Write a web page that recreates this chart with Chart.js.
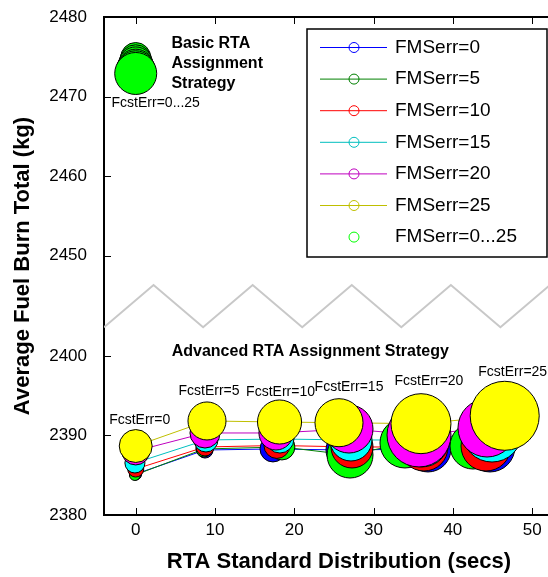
<!DOCTYPE html>
<html>
<head>
<meta charset="utf-8">
<script src="https://cdn.jsdelivr.net/npm/chart.js@4.4.1/dist/chart.umd.min.js"></script>
<style>
  html, body { margin: 0; padding: 0; background: #fff; overflow: hidden; width: 548px; height: 577px; }
  canvas { display: block; }
</style>
</head>
<body>
<!-- canvas is wider than the window: the axes box runs past the right edge as in the original -->
<canvas id="chart" width="574" height="577"></canvas>
<script>
const FONT = '"Liberation Sans", Arial, Helvetica, sans-serif'

const fmsErr = [0, 5, 10, 15, 20, 25]
const fcstErr = [0, 5, 10, 15, 20, 25]

// advanced strategy: one row per FMSerr, one column per FcstErr
const rtaStdDist = [
  [0.0, 8.74, 17.31, 26.40, 36.86, 44.68],
  [-0.1, 8.61, 18.44, 27.03, 33.96, 42.54],
  [0.0, 8.74, 17.81, 27.28, 36.36, 44.18],
  [-0.1, 8.86, 18.19, 27.15, 36.11, 44.94],
  [0.0, 8.74, 17.69, 26.90, 35.73, 44.31],
  [0.0, 8.99, 18.14, 25.64, 35.98, 46.54]
]
const fuelBurn = [
  [2385.15, 2388.17, 2388.30, 2388.17, 2388.30, 2388.55],
  [2385.03, 2388.30, 2388.55, 2387.54, 2389.05, 2388.67],
  [2385.78, 2388.55, 2388.74, 2388.55, 2388.55, 2388.67],
  [2386.54, 2389.43, 2389.55, 2389.43, 2389.43, 2390.43],
  [2388.05, 2390.31, 2390.31, 2390.81, 2390.06, 2390.94],
  [2388.67, 2391.82, 2391.69, 2391.60, 2391.48, 2392.47]
]
// bubble size = fuel burn spread (kg)
const fuelSpread = [
  [0.75, 1.01, 1.63, 2.39, 2.89, 3.14],
  [0.69, 1.01, 1.63, 2.89, 3.14, 2.89],
  [1.01, 1.13, 1.63, 2.64, 3.02, 3.14],
  [1.26, 1.51, 1.76, 2.64, 3.39, 3.77],
  [1.76, 1.89, 2.14, 3.02, 4.02, 3.65],
  [2.07, 2.39, 2.77, 3.02, 3.77, 4.34]
]

// basic strategy, FcstErr=0...25
const basicStdDist = [0, 0, 0, 0, 0, 0]
const basicFuelBurn = [2474.9, 2474.5, 2474.1, 2473.7, 2473.3, 2472.9]
const basicSpread = [1.89, 2.01, 2.14, 2.26, 2.45, 2.64]

const xTickValues = [0, 10, 20, 30, 40, 50]
const yTickValues = [2380, 2390, 2400, 2450, 2460, 2470, 2480]

// axis break zigzag (axis units)
const breakX = [-4, 2.25, 8.5, 14.75, 21, 27.25, 33.5, 39.75, 46, 52.25, 58.5]
const breakY = [2403.6, 2408.9, 2403.6, 2408.9, 2403.6, 2408.9, 2403.6, 2408.9, 2403.6, 2408.9, 2403.6]

const lineColors = ['#0000ff', '#008000', '#ff0000', '#00bfbf', '#bf00bf', '#bfbf00']
const fillColors = ['#0000ff', '#00ff00', '#ff0000', '#00ffff', '#ff00ff', '#ffff00']
const basicColor = '#00ff00'

// FcstErr label nudges (px) from the top of each yellow bubble
const labelDx = [4, 2, 1, 10, 8, 8]
const labelDy = [-9.5, -11, -7.7, -12, -12.7, -8.8]

// kg cut out of the y axis between 2400 and 2450
const axisGap = 37.4
const toAxis = v => v >= 2440 ? v - axisGap : v
const fromAxis = u => u > 2410 ? u + axisGap : u

// bubble radius: the spread in kg, measured on the y scale
const spreadRadius = ctx => {
  const raw = ctx.raw
  if (!raw) return 0
  const y = ctx.chart.scales.y
  const r = Math.abs(y.getPixelForValue(raw.y) - y.getPixelForValue(raw.y + raw.s))
  return isFinite(r) ? r : 0
}

const seriesPoints = i =>
  fcstErr.map((f, j) => ({ x: rtaStdDist[i][j], y: fuelBurn[i][j], s: fuelSpread[i][j] }))

const datasets = [
  {
    type: 'line',
    label: 'break',
    data: breakX.map((x, i) => ({ x, y: breakY[i] })),
    borderColor: '#c8c8c8',
    borderWidth: 2,
    pointRadius: 0,
    order: 30
  },
  ...fmsErr.map((f, i) => ({
    type: 'line',
    label: 'FMSerr=' + f + ' line',
    data: seriesPoints(i),
    borderColor: lineColors[i],
    borderWidth: 1,
    pointRadius: 0,
    order: 20 - i
  })),
  ...fmsErr.map((f, i) => ({
    type: 'bubble',
    label: 'FMSerr=' + f,
    data: seriesPoints(i),
    parsing: false,
    backgroundColor: fillColors[i],
    borderColor: '#000',
    borderWidth: 1,
    radius: spreadRadius,
    clip: false,
    order: 7 - i
  })),
  {
    type: 'bubble',
    label: 'FMSerr=0...25',
    data: basicFuelBurn.map((v, j) => ({ x: basicStdDist[j], y: toAxis(v), s: basicSpread[j] })),
    parsing: false,
    backgroundColor: basicColor,
    borderColor: '#000',
    borderWidth: 1,
    radius: spreadRadius,
    clip: false,
    order: 0
  }
]

const text = (ctx, str, x, y, size, weight, align) => {
  ctx.font = `${weight} ${size}px ${FONT}`
  ctx.fillStyle = '#000'
  ctx.textAlign = align
  ctx.textBaseline = 'middle'
  ctx.fillText(str, x, y)
}

const decorations = {
  id: 'decorations',
  afterDatasetsDraw (chart) {
    const { ctx, chartArea: area, scales: { x, y } } = chart
    ctx.save()
    // inward ticks + top frame
    ctx.strokeStyle = '#000'
    ctx.lineWidth = 1
    ctx.beginPath()
    y.ticks.forEach(t => {
      const py = Math.round(y.getPixelForValue(t.value)) + 0.5
      ctx.moveTo(area.left, py)
      ctx.lineTo(area.left + 7, py)
    })
    x.ticks.forEach(t => {
      const px = Math.round(x.getPixelForValue(t.value)) + 0.5
      ctx.moveTo(px, area.bottom)
      ctx.lineTo(px, area.bottom - 7)
      ctx.moveTo(px, area.top)
      ctx.lineTo(px, area.top + 7)
    })
    ctx.stroke()
    ctx.lineWidth = 2
    ctx.beginPath()
    ctx.moveTo(area.left, area.top)
    ctx.lineTo(area.right, area.top)
    ctx.stroke()

    // strategy titles
    const bx = x.getPixelForValue(4.5)
    const by = y.getPixelForValue(toAxis(2476.7))
    ;['Basic RTA', 'Assignment', 'Strategy'].forEach((s, i) => text(ctx, s, bx, by + i * 20, 16, 'bold', 'left'))
    text(ctx, 'Advanced RTA Assignment Strategy', x.getPixelForValue(4.54), y.getPixelForValue(2400.53), 16, 'bold', 'left')

    // FcstErr labels above the yellow bubbles
    const top = chart.getDatasetMeta(12).data
    top.forEach((el, j) => {
      text(ctx, 'FcstErr=' + fcstErr[j], el.x + labelDx[j], el.y - el.options.radius + labelDy[j], 14, 'normal', 'center')
    })
    const basic = chart.getDatasetMeta(13).data
    const big = basic[basic.length - 1]
    text(ctx, 'FcstErr=' + fcstErr[0] + '...' + fcstErr[fcstErr.length - 1], big.x + 20, big.y + big.options.radius + 9, 14, 'normal', 'center')

    // legend box
    const lx = area.left + 203
    const ly = area.top + 12
    ctx.fillStyle = '#fff'
    ctx.fillRect(lx, ly, 240, 228)
    ctx.strokeStyle = '#000'
    ctx.lineWidth = 1.5
    ctx.strokeRect(lx, ly, 240, 228)
    const names = [...fmsErr.map(f => 'FMSerr=' + f), 'FMSerr=0...25']
    names.forEach((name, i) => {
      const ry = ly + 18.5 + i * 31.6
      const col = i < lineColors.length ? lineColors[i] : basicColor
      ctx.strokeStyle = col
      ctx.lineWidth = 1
      if (i < lineColors.length) {
        ctx.beginPath()
        ctx.moveTo(lx + 13, ry)
        ctx.lineTo(lx + 80, ry)
        ctx.stroke()
      }
      ctx.beginPath()
      ctx.arc(lx + 47, ry, 5, 0, Math.PI * 2)
      ctx.stroke()
      text(ctx, name, lx + 88, ry, 19, 'normal', 'left')
    })
    ctx.restore()
  }
}

new Chart(document.getElementById('chart'), {
  type: 'bubble',
  data: { datasets },
  options: {
    responsive: false,
    animation: false,
    events: [],
    layout: { autoPadding: false, padding: { left: 0, top: 17, right: 0, bottom: 0 } },
    plugins: { legend: { display: false }, tooltip: { enabled: false } },
    scales: {
      x: {
        type: 'linear',
        min: -4,
        max: 55.28,
        afterBuildTicks: scale => { scale.ticks = xTickValues.map(v => ({ value: v })) },
        afterFit: scale => { scale.height = 62 },
        grid: { display: false, drawTicks: false },
        border: { display: true, color: '#000', width: 2 },
        ticks: { color: '#000', font: { family: FONT, size: 17 }, padding: 5, maxRotation: 0, autoSkip: false },
        title: {
          display: true,
          text: 'RTA Standard Distribution (secs)',
          color: '#000',
          font: { family: FONT, size: 22, weight: 'bold' },
          padding: { top: 0, bottom: 2 }
        }
      },
      y: {
        type: 'linear',
        min: 2380,
        max: 2442.6,
        afterBuildTicks: scale => { scale.ticks = yTickValues.map(v => ({ value: toAxis(v) })) },
        afterFit: scale => {
          scale.width = 104
          scale.paddingTop = 0
          scale.paddingBottom = 0
        },
        grid: { display: false, drawTicks: false },
        border: { display: true, color: '#000', width: 2 },
        ticks: {
          color: '#000',
          font: { family: FONT, size: 17 },
          padding: 17,
          autoSkip: false,
          callback: v => String(Math.round(fromAxis(v)))
        },
        title: {
          display: true,
          text: 'Average Fuel Burn Total (kg)',
          color: '#000',
          font: { family: FONT, size: 22, weight: 'bold' },
          padding: { top: 10, bottom: 0 }
        }
      }
    }
  },
  plugins: [decorations]
})
</script>
</body>
</html>
